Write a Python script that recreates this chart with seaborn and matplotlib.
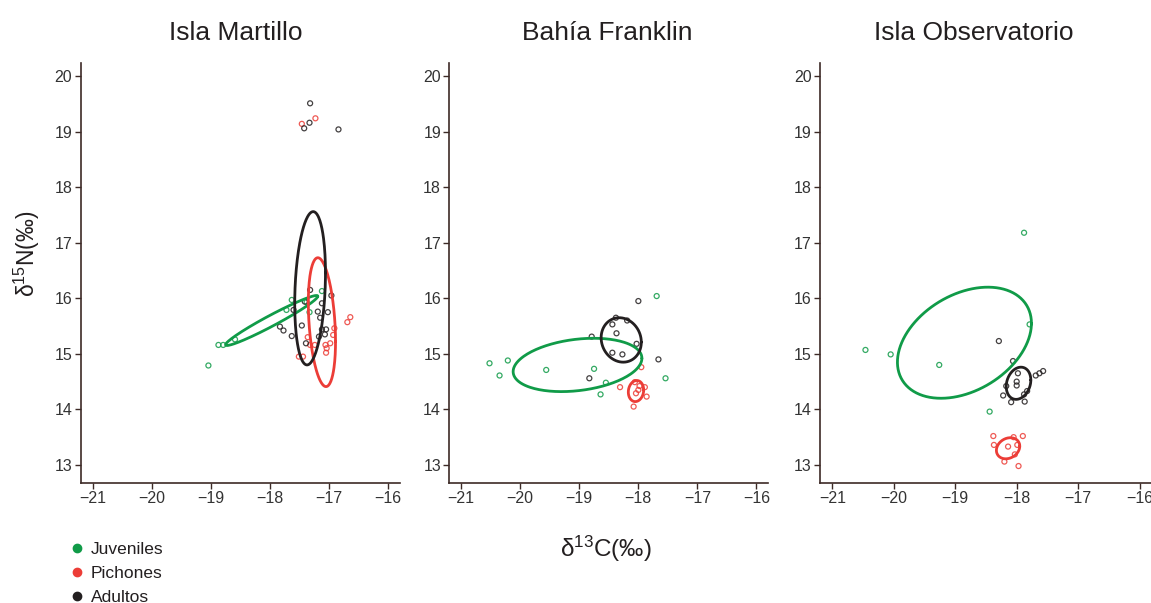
import numpy as np
import seaborn as sns
import matplotlib.pyplot as plt
from matplotlib.lines import Line2D

sns.set_style('ticks')
plt.rcParams['font.family'] = ['Liberation Sans', 'DejaVu Sans']
plt.rcParams['mathtext.fontset'] = 'custom'
plt.rcParams['mathtext.rm'] = 'Liberation Sans'
plt.rcParams['mathtext.default'] = 'regular'

sites = ['Isla Martillo', 'Bahía Franklin', 'Isla Observatorio']
groups = ['Juveniles', 'Pichones', 'Adultos']
colors = ['#109b48', '#ec3d37', '#231f20']

x_ticks = [-21, -20, -19, -18, -17, -16]
y_ticks = [13, 14, 15, 16, 17, 18, 19, 20]

# Isla Martillo
martillo_juv_x = [-19.04, -18.87, -18.79, -18.59, -17.63, -17.72, -17.12, -17.33, -17.38]
martillo_juv_y = [14.79, 15.16, 15.16, 15.26, 15.97, 15.79, 16.13, 15.75, 15.93]
martillo_pic_x = [-17.46, -17.23, -16.69, -16.64, -16.91, -16.93, -16.98, -17.06, -17.04,
                  -17.05, -17.36, -17.32, -17.24, -17.51, -17.44]
martillo_pic_y = [19.14, 19.24, 15.57, 15.66, 15.46, 15.34, 15.19, 15.16, 15.10,
                  15.02, 15.30, 15.16, 15.16, 14.95, 14.95]
martillo_adu_x = [-17.32, -17.33, -17.42, -16.84, -17.32, -16.96, -17.12, -17.41, -17.19,
                  -17.02, -17.60, -17.15, -17.46, -17.83, -17.77, -17.63, -17.12, -17.05,
                  -17.17, -17.07, -17.39]
martillo_adu_y = [19.51, 19.16, 19.06, 19.04, 16.15, 16.05, 15.91, 15.94, 15.76,
                  15.75, 15.79, 15.65, 15.51, 15.49, 15.42, 15.32, 15.44, 15.44,
                  15.31, 15.35, 15.19]

# Bahía Franklin
franklin_juv_x = [-20.52, -20.21, -20.35, -19.56, -18.75, -18.55, -18.64, -17.69, -17.54]
franklin_juv_y = [14.83, 14.88, 14.61, 14.71, 14.73, 14.48, 14.27, 16.04, 14.56]
franklin_pic_x = [-18.31, -18.06, -18.04, -17.89, -17.86, -18.08, -17.95, -18.0, -17.98]
franklin_pic_y = [14.40, 14.49, 14.29, 14.40, 14.23, 14.05, 14.76, 14.35, 14.42]
franklin_adu_x = [-18.0, -18.38, -18.19, -18.44, -18.37, -18.79, -18.03, -18.44, -18.27,
                  -17.66, -18.83]
franklin_adu_y = [15.95, 15.65, 15.60, 15.53, 15.37, 15.31, 15.18, 15.02, 14.99,
                  14.90, 14.56]

# Isla Observatorio
observ_juv_x = [-17.88, -17.79, -20.46, -20.05, -19.26, -18.44]
observ_juv_y = [17.18, 15.53, 15.07, 14.99, 14.80, 13.96]
observ_pic_x = [-18.38, -18.05, -17.90, -18.37, -17.99, -18.14, -18.03, -18.20, -17.97]
observ_pic_y = [13.52, 13.50, 13.52, 13.36, 13.36, 13.33, 13.19, 13.06, 12.98]
observ_adu_x = [-18.29, -18.06, -17.98, -17.69, -17.63, -17.57, -18.0, -18.0, -18.17,
                -18.22, -18.09, -17.88, -17.83, -17.87]
observ_adu_y = [15.23, 14.87, 14.65, 14.61, 14.65, 14.69, 14.50, 14.43, 14.42,
                14.25, 14.13, 14.27, 14.33, 14.14]

# standard ellipses: centre, half extents and correlation (Juveniles, Pichones, Adultos)
martillo_ell_cx = [-17.97, -17.12, -17.32]
martillo_ell_cy = [15.60, 15.57, 16.18]
martillo_ell_sx = [0.78, 0.23, 0.26]
martillo_ell_sy = [0.45, 1.16, 1.38]
martillo_ell_r = [0.97, -0.30, 0.20]

franklin_ell_cx = [-19.03, -18.04, -18.29]
franklin_ell_cy = [14.80, 14.33, 15.25]
franklin_ell_sx = [1.09, 0.13, 0.34]
franklin_ell_sy = [0.48, 0.19, 0.40]
franklin_ell_r = [0.25, 0.10, -0.10]

observ_ell_cx = [-18.85, -18.14, -17.97]
observ_ell_cy = [15.20, 13.30, 14.47]
observ_ell_sx = [1.09, 0.19, 0.20]
observ_ell_sy = [1.00, 0.19, 0.29]
observ_ell_r = [0.35, 0.20, 0.20]

points = [
    [(martillo_juv_x, martillo_juv_y), (martillo_pic_x, martillo_pic_y), (martillo_adu_x, martillo_adu_y)],
    [(franklin_juv_x, franklin_juv_y), (franklin_pic_x, franklin_pic_y), (franklin_adu_x, franklin_adu_y)],
    [(observ_juv_x, observ_juv_y), (observ_pic_x, observ_pic_y), (observ_adu_x, observ_adu_y)],
]
ellipses = [
    (martillo_ell_cx, martillo_ell_cy, martillo_ell_sx, martillo_ell_sy, martillo_ell_r),
    (franklin_ell_cx, franklin_ell_cy, franklin_ell_sx, franklin_ell_sy, franklin_ell_r),
    (observ_ell_cx, observ_ell_cy, observ_ell_sx, observ_ell_sy, observ_ell_r),
]

spine_col = '#3d2a26'
text_col = '#231f20'

fig = plt.figure(figsize=(11.51, 6.03), dpi=100)
positions = [
    [0.0701, 0.1995, 0.2774, 0.6955],
    [0.3904, 0.1995, 0.2771, 0.6955],
    [0.7124, 0.1995, 0.2884, 0.6955],
]
title_x = [0.485, 0.494, 0.464]

t = np.linspace(0, 2 * np.pi, 200)
for i, site in enumerate(sites):
    ax = fig.add_axes(positions[i])
    for g in range(3):
        px, py = points[i][g]
        sns.scatterplot(x=px, y=py, ax=ax, s=13, marker='o', facecolor='none',
                        edgecolor=colors[g], linewidth=0.9, alpha=0.85, zorder=3)
    cx, cy, sx, sy, r = ellipses[i]
    for g in range(3):
        ex = cx[g] + sx[g] * np.cos(t)
        ey = cy[g] + sy[g] * (r[g] * np.cos(t) + np.sqrt(1 - r[g] ** 2) * np.sin(t))
        ax.plot(ex, ey, color=colors[g], lw=2.0, zorder=4)

    ax.set_xlim(-21.2, -15.8)
    ax.set_ylim(12.68, 20.23)
    ax.set_xticks(x_ticks)
    ax.set_yticks(y_ticks)
    ax.set_xticklabels([f'\u2212{abs(v)}' for v in x_ticks])
    sns.despine(ax=ax)
    for s in ['left', 'bottom']:
        ax.spines[s].set_color(spine_col)
        ax.spines[s].set_linewidth(1.2)
    ax.tick_params(direction='out', length=4, width=1, color=spine_col,
                   labelsize=11.5, labelcolor='#333333', pad=2)
    ax.set_title(site, fontsize=19, color=text_col, pad=17, x=title_x[i])
    ax.set_xlabel('')
    ax.set_ylabel('')

fig.text(0.526, 0.089, 'δ$^{13}$C(‰)', fontsize=17.5, color=text_col, ha='center', va='center')
fig.text(0.0235, 0.58, 'δ$^{15}$N(‰)', fontsize=16.5, color=text_col, ha='center', va='center',
         rotation=90)

handles = [Line2D([], [], marker='o', ls='', color=c, markersize=6) for c in colors]
fig.legend(handles, groups, loc='upper left', bbox_to_anchor=(0.061, 0.101), frameon=False,
           fontsize=12.5, handlelength=0.8, handletextpad=0.4, labelspacing=0.5,
           borderpad=0, borderaxespad=0, labelcolor=text_col)

fig.savefig('out.png', dpi=100, facecolor='white')
